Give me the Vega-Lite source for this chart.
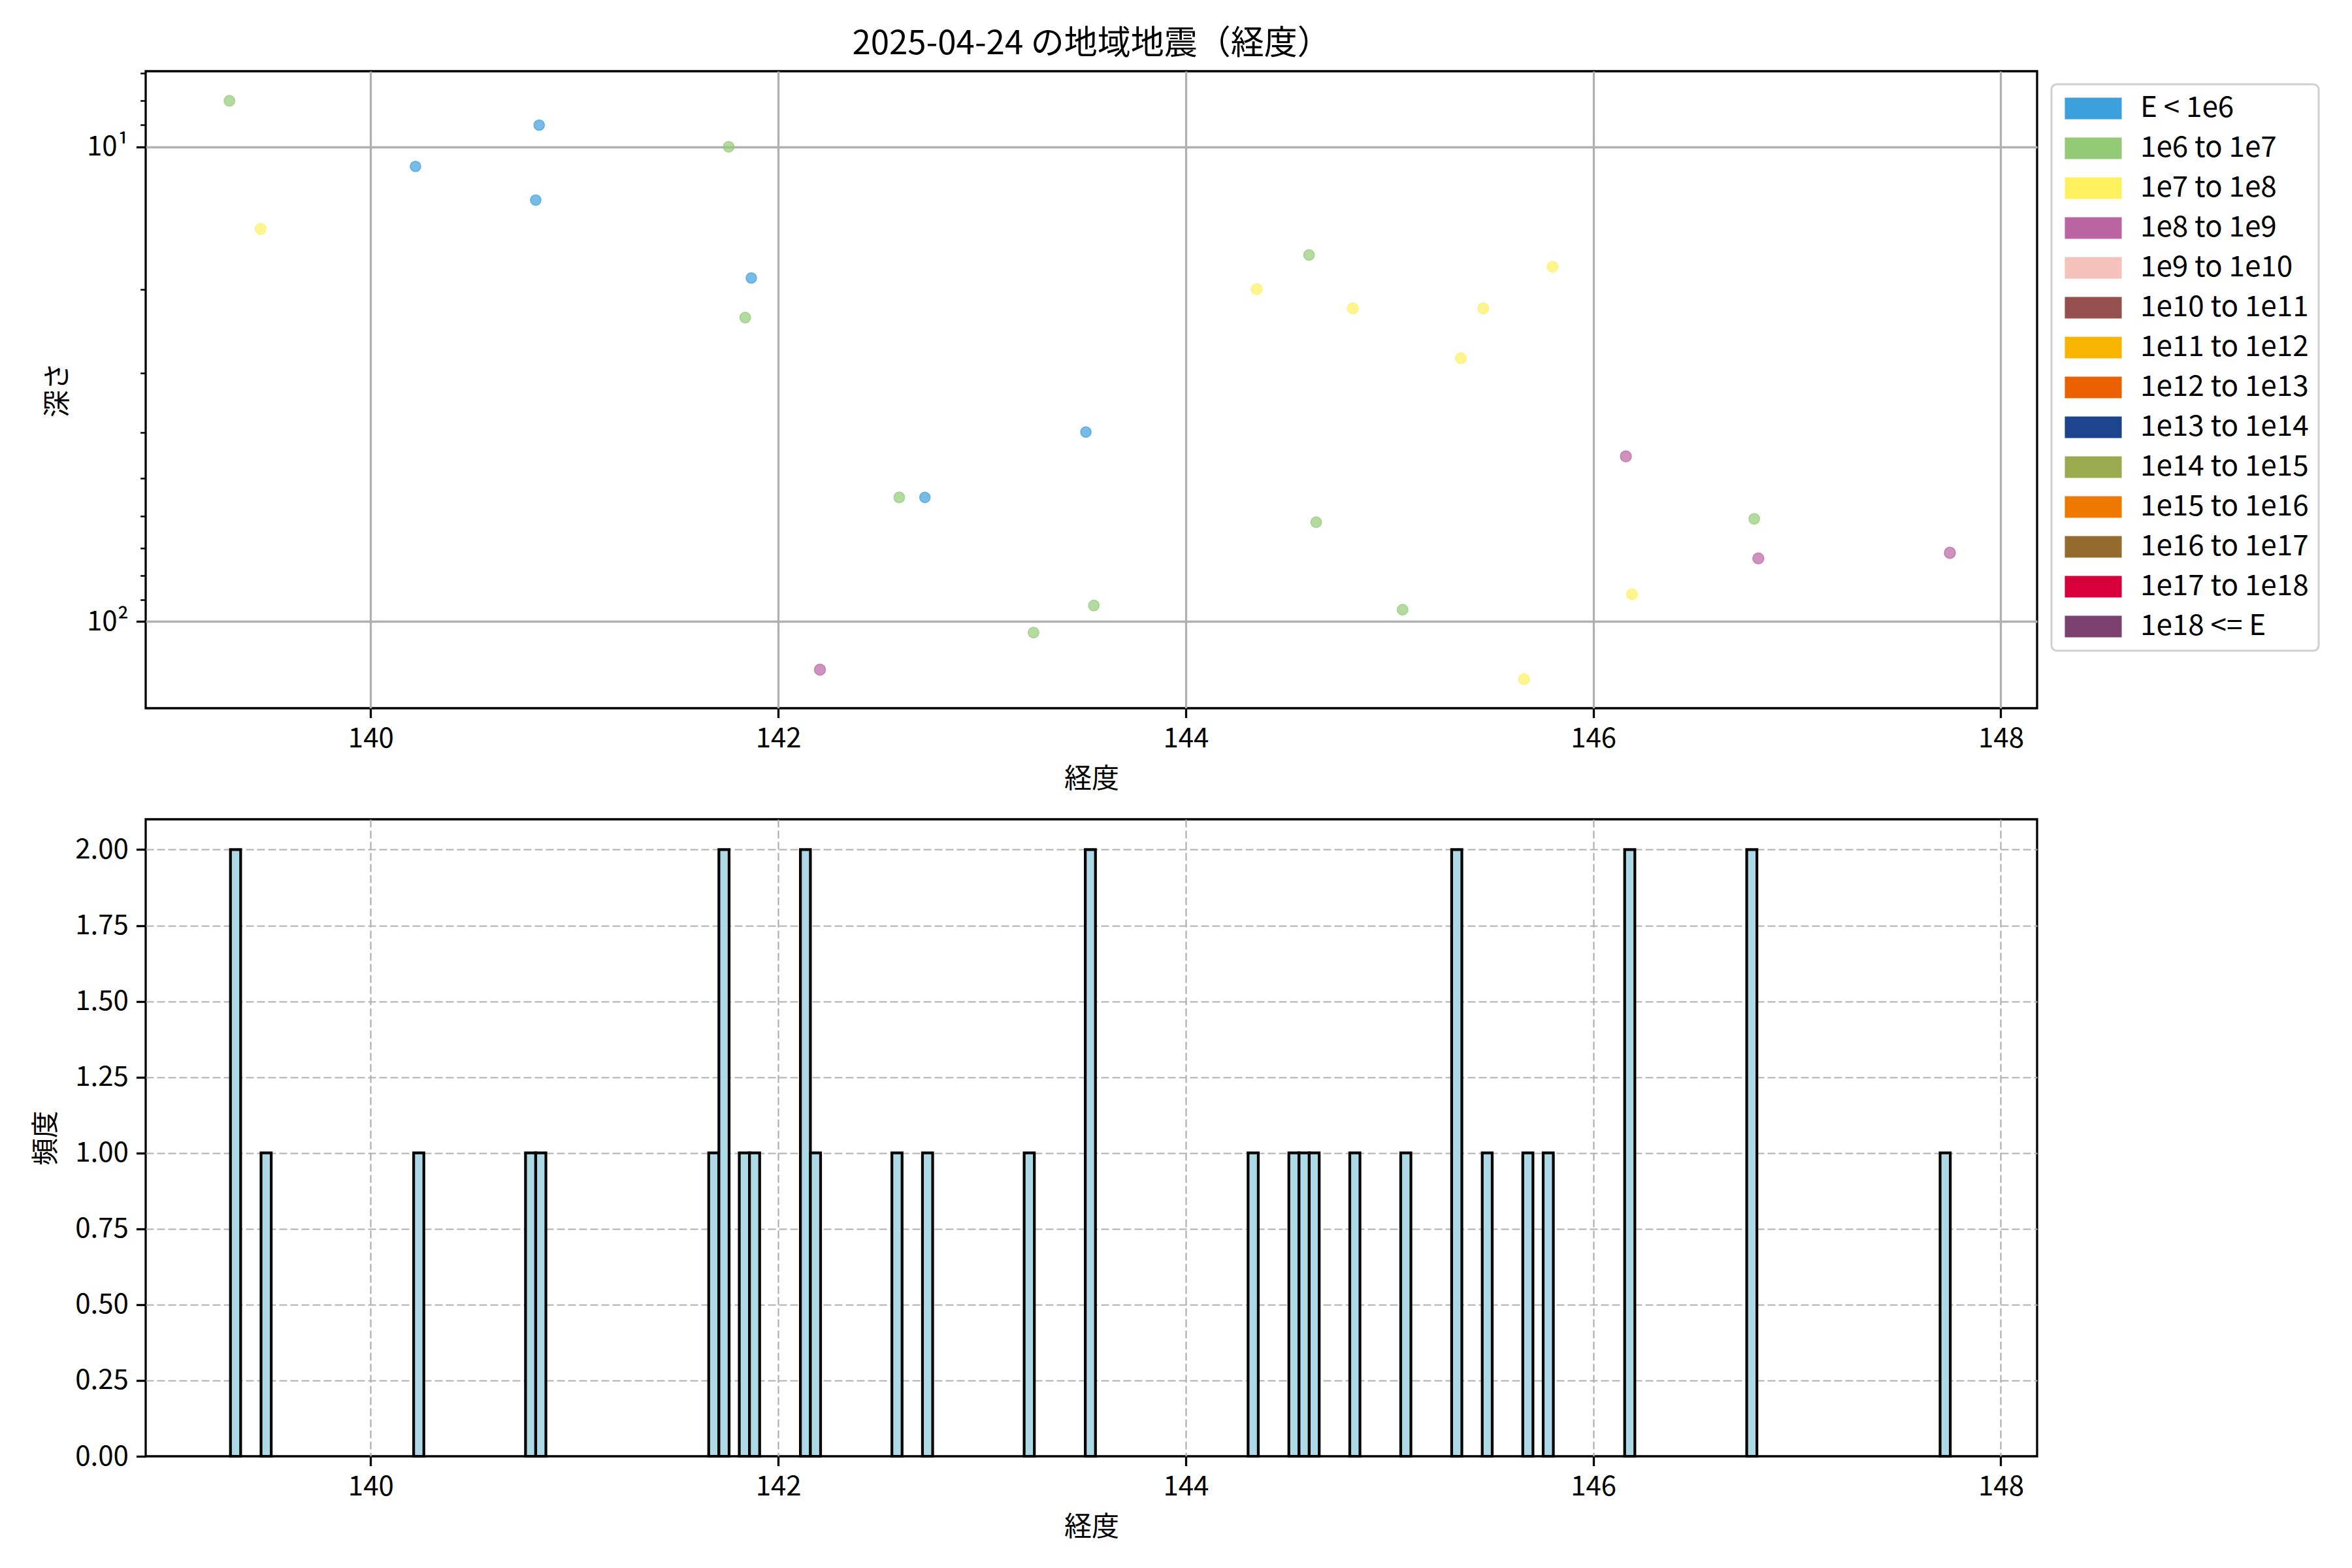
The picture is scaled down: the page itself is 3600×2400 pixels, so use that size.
{
  "$schema": "https://vega.github.io/schema/vega-lite/v6.json",
  "background": "white",
  "padding": {"left": 48, "top": 40, "right": 10, "bottom": 10},
  "spacing": 36,
  "config": {
    "font": "Noto Sans CJK JP",
    "view": {"stroke": "black", "strokeWidth": 3.3},
    "axis": {
      "labelFont": "Noto Sans CJK JP",
      "labelFontSize": 42,
      "labelColor": "black",
      "titleFont": "Noto Sans CJK JP",
      "titleFontSize": 42,
      "titleFontWeight": "normal",
      "titleColor": "black",
      "tickColor": "black",
      "tickWidth": 3.3,
      "tickSize": 14.6,
      "labelPadding": 12,
      "titlePadding": 21,
      "domain": false,
      "gridColor": "#b0b0b0",
      "gridWidth": 3.3
    },
    "legend": {
      "orient": "none",
      "legendX": 2917,
      "legendY": 20,
      "title": null,
      "symbolType": "M-2.64,-1H2.64V1H-2.64Z",
      "symbolSize": 1089,
      "symbolStrokeWidth": 0,
      "symbolOpacity": 1,
      "labelFont": "Noto Sans CJK JP",
      "labelFontSize": 44,
      "labelColor": "black",
      "padding": 15,
      "strokeColor": "#d0d0d0",
      "strokeWidth": 3,
      "fillColor": "white",
      "cornerRadius": 8,
      "symbolOffset": 27,
      "labelOffset": 50,
      "rowPadding": 17,
      "labelLimit": 0
    }
  },
  "datasets": {
    "quakes": [
      {"lon": 139.307, "depth": 8.0, "class": "1e6 to 1e7"},
      {"lon": 139.46, "depth": 14.9, "class": "1e7 to 1e8"},
      {"lon": 140.22, "depth": 11.0, "class": "E < 1e6"},
      {"lon": 140.827, "depth": 9.0, "class": "E < 1e6"},
      {"lon": 140.81, "depth": 12.95, "class": "E < 1e6"},
      {"lon": 141.757, "depth": 10.0, "class": "1e6 to 1e7"},
      {"lon": 141.868, "depth": 18.9, "class": "E < 1e6"},
      {"lon": 141.838, "depth": 22.9, "class": "1e6 to 1e7"},
      {"lon": 142.594, "depth": 54.8, "class": "1e6 to 1e7"},
      {"lon": 142.205, "depth": 126.4, "class": "1e8 to 1e9"},
      {"lon": 142.72, "depth": 54.8, "class": "E < 1e6"},
      {"lon": 143.51, "depth": 39.9, "class": "E < 1e6"},
      {"lon": 143.549, "depth": 92.6, "class": "1e6 to 1e7"},
      {"lon": 143.253, "depth": 105.6, "class": "1e6 to 1e7"},
      {"lon": 144.605, "depth": 16.9, "class": "1e6 to 1e7"},
      {"lon": 144.348, "depth": 19.95, "class": "1e7 to 1e8"},
      {"lon": 144.82, "depth": 21.9, "class": "1e7 to 1e8"},
      {"lon": 145.46, "depth": 21.9, "class": "1e7 to 1e8"},
      {"lon": 145.8, "depth": 17.9, "class": "1e7 to 1e8"},
      {"lon": 145.35, "depth": 27.9, "class": "1e7 to 1e8"},
      {"lon": 144.64, "depth": 61.8, "class": "1e6 to 1e7"},
      {"lon": 145.064, "depth": 94.5, "class": "1e6 to 1e7"},
      {"lon": 145.66, "depth": 132.4, "class": "1e7 to 1e8"},
      {"lon": 146.16, "depth": 44.9, "class": "1e8 to 1e9"},
      {"lon": 146.19, "depth": 87.7, "class": "1e7 to 1e8"},
      {"lon": 146.79, "depth": 60.8, "class": "1e6 to 1e7"},
      {"lon": 146.81, "depth": 73.7, "class": "1e8 to 1e9"},
      {"lon": 147.75, "depth": 71.7, "class": "1e8 to 1e9"}
    ],
    "hist": [
      {"lon0": 139.312, "lon1": 139.362, "count": 2},
      {"lon0": 139.462, "lon1": 139.512, "count": 1},
      {"lon0": 140.211, "lon1": 140.261, "count": 1},
      {"lon0": 140.760, "lon1": 140.810, "count": 1},
      {"lon0": 140.810, "lon1": 140.860, "count": 1},
      {"lon0": 141.659, "lon1": 141.709, "count": 1},
      {"lon0": 141.709, "lon1": 141.759, "count": 2},
      {"lon0": 141.809, "lon1": 141.859, "count": 1},
      {"lon0": 141.859, "lon1": 141.909, "count": 1},
      {"lon0": 142.109, "lon1": 142.158, "count": 2},
      {"lon0": 142.158, "lon1": 142.208, "count": 1},
      {"lon0": 142.558, "lon1": 142.608, "count": 1},
      {"lon0": 142.708, "lon1": 142.758, "count": 1},
      {"lon0": 143.207, "lon1": 143.257, "count": 1},
      {"lon0": 143.507, "lon1": 143.557, "count": 2},
      {"lon0": 144.306, "lon1": 144.356, "count": 1},
      {"lon0": 144.506, "lon1": 144.556, "count": 1},
      {"lon0": 144.556, "lon1": 144.606, "count": 1},
      {"lon0": 144.606, "lon1": 144.655, "count": 1},
      {"lon0": 144.805, "lon1": 144.855, "count": 1},
      {"lon0": 145.055, "lon1": 145.105, "count": 1},
      {"lon0": 145.305, "lon1": 145.355, "count": 2},
      {"lon0": 145.455, "lon1": 145.504, "count": 1},
      {"lon0": 145.654, "lon1": 145.704, "count": 1},
      {"lon0": 145.754, "lon1": 145.804, "count": 1},
      {"lon0": 146.154, "lon1": 146.204, "count": 2},
      {"lon0": 146.753, "lon1": 146.803, "count": 2},
      {"lon0": 147.702, "lon1": 147.752, "count": 1}
    ]
  },
  "vconcat": [
    {
      "title": {"text": "2025-04-24 の地域地震（経度）", "fontSize": 51, "fontWeight": "normal", "font": "Noto Sans CJK JP", "color": "black", "anchor": "middle", "frame": "group", "offset": 15},
      "width": 2895,
      "height": 975,
      "data": {"name": "quakes"},
      "mark": {"type": "point", "filled": true, "fillOpacity": 0.7, "strokeOpacity": 0.7, "strokeWidth": 1.5},
      "encoding": {
        "x": {
          "field": "lon", "type": "quantitative",
          "scale": {"domain": [138.896, 148.178], "nice": false, "zero": false},
          "axis": {"values": [140, 142, 144, 146, 148], "format": "d", "title": "経度", "grid": true}
        },
        "y": {
          "field": "depth", "type": "quantitative",
          "scale": {"type": "log", "domain": [6.93, 152.4], "nice": false, "reverse": true},
          "axis": {
            "title": "深さ",
            "titlePadding": 22,
            "values": [7, 8, 9, 10, 20, 30, 40, 50, 60, 70, 80, 90, 100],
            "labelExpr": "datum.value == 10 ? '10¹' : (datum.value == 100 ? '10²' : '')",
            "grid": true,
            "gridOpacity": {"condition": {"test": "datum.value == 10 || datum.value == 100", "value": 1}, "value": 0},
            "tickSize": {"condition": {"test": "datum.value == 10 || datum.value == 100", "value": 14.6}, "value": 8.3},
            "tickWidth": {"condition": {"test": "datum.value == 10 || datum.value == 100", "value": 3.3}, "value": 2.5}
          }
        },
        "color": {
          "field": "class", "type": "nominal",
          "scale": {
            "domain": ["E < 1e6", "1e6 to 1e7", "1e7 to 1e8", "1e8 to 1e9", "1e9 to 1e10", "1e10 to 1e11", "1e11 to 1e12", "1e12 to 1e13", "1e13 to 1e14", "1e14 to 1e15", "1e15 to 1e16", "1e16 to 1e17", "1e17 to 1e18", "1e18 <= E"],
            "range": ["#3CA0DC", "#93CA76", "#FFF15F", "#BB64A2", "#F5C1BB", "#95504D", "#F8B500", "#EB6101", "#1D448C", "#9AAB4F", "#EE7800", "#946B2D", "#D8003A", "#7C416F"]
          }
        },
        "stroke": {
          "field": "class", "type": "nominal",
          "scale": {
            "domain": ["E < 1e6", "1e6 to 1e7", "1e7 to 1e8", "1e8 to 1e9"],
            "range": ["#3CA0DC", "#93CA76", "#FFF15F", "#BB64A2"]
          },
          "legend": null
        },
        "size": {
          "field": "class", "type": "ordinal",
          "scale": {"domain": ["E < 1e6", "1e6 to 1e7", "1e7 to 1e8", "1e8 to 1e9"], "range": [260, 290, 320, 380]},
          "legend": null
        }
      }
    },
    {
      "width": 2895,
      "height": 975,
      "data": {"name": "hist"},
      "mark": {"type": "rect", "fill": "#ADD8E6", "stroke": "black", "strokeWidth": 4.2},
      "encoding": {
        "x": {
          "field": "lon0", "type": "quantitative",
          "scale": {"domain": [138.896, 148.178], "nice": false, "zero": false},
          "axis": {"values": [140, 142, 144, 146, 148], "format": "d", "title": "経度", "grid": true, "gridDash": [12, 5], "gridWidth": 2.2}
        },
        "x2": {"field": "lon1"},
        "y": {
          "field": "count", "type": "quantitative",
          "scale": {"domain": [0, 2.1], "nice": false},
          "axis": {
            "title": "頻度", "titlePadding": 22,
            "values": [0, 0.25, 0.5, 0.75, 1, 1.25, 1.5, 1.75, 2],
            "format": ".2f", "grid": true, "gridDash": [12, 5], "gridWidth": 2.2,
            "gridOpacity": {"condition": {"test": "datum.value == 0", "value": 0}, "value": 1}
          }
        },
        "y2": {"datum": 0}
      }
    }
  ]
}
